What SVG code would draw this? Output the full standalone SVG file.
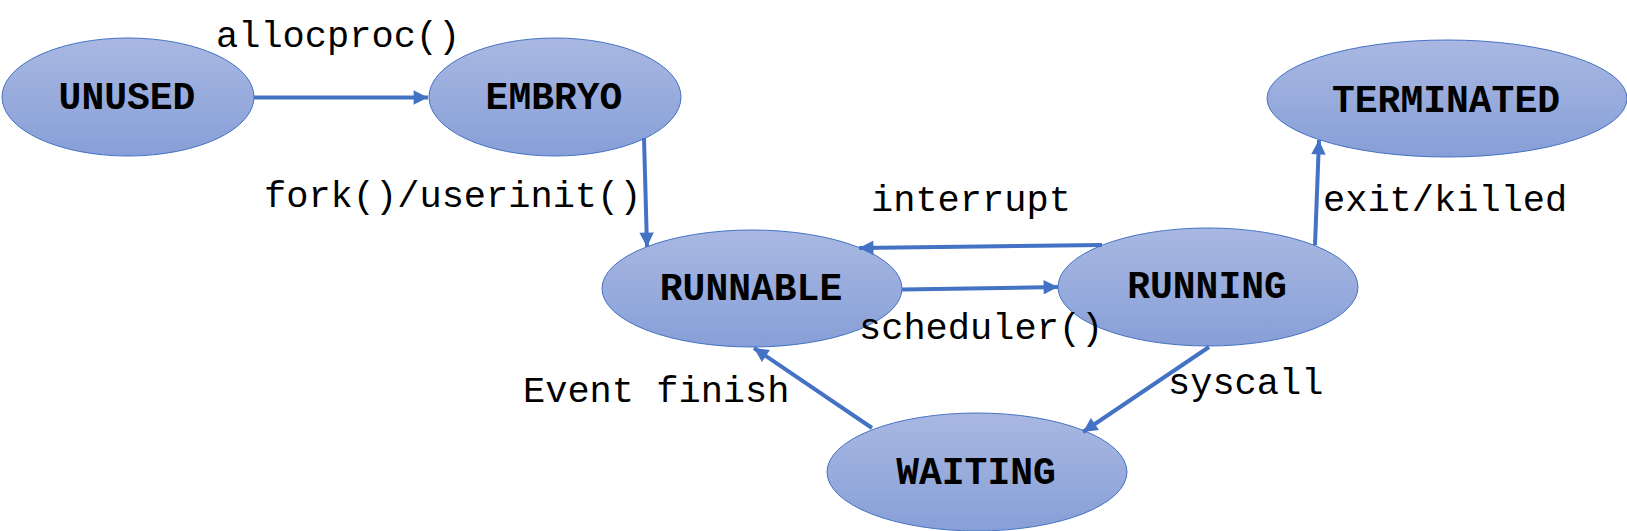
<svg xmlns="http://www.w3.org/2000/svg" width="1627" height="531" viewBox="0 0 1627 531">
<defs>
<linearGradient id="g" x1="0" y1="0" x2="0" y2="1">
<stop offset="0" stop-color="#a9b8e2"/>
<stop offset="1" stop-color="#879fd7"/>
</linearGradient>
<marker id="ah" viewBox="0 0 10 10" refX="10" refY="5" markerWidth="3.8" markerHeight="3.6" orient="auto" markerUnits="strokeWidth">
<path d="M0,0 L10,5 L0,10 z" fill="#4472c4"/>
</marker>
<style>
.n ellipse{fill:url(#g);stroke:#4472c4;stroke-width:1}
.n text{font-family:"Courier New","Nimbus Mono PS","Liberation Mono",monospace;font-weight:bold;font-size:38px;fill:#000;text-anchor:middle}
.lbl{font-family:"Courier New","Nimbus Mono PS","Liberation Mono",monospace;font-size:37px;fill:#000}
#edges line{stroke:#4472c4;stroke-width:4;marker-end:url(#ah)}
</style>
</defs>
<rect width="1627" height="531" fill="#fff"/>
<g id="n-unused" class="n"><ellipse cx="128" cy="97" rx="126" ry="59"/><text x="127" y="109">UNUSED</text></g>
<g id="n-embryo" class="n"><ellipse cx="555" cy="97" rx="126" ry="59"/><text x="554" y="109">EMBRYO</text></g>
<g id="n-terminated" class="n"><ellipse cx="1447" cy="98.5" rx="180" ry="58.5"/><text x="1446" y="112">TERMINATED</text></g>
<g id="n-runnable" class="n"><ellipse cx="752" cy="288.5" rx="150" ry="58.5"/><text x="751" y="300">RUNNABLE</text></g>
<g id="n-running" class="n"><ellipse cx="1208" cy="287" rx="150" ry="59"/><text x="1207" y="298">RUNNING</text></g>
<g id="n-waiting" class="n"><ellipse cx="977" cy="472" rx="150" ry="59"/><text x="976" y="484">WAITING</text></g>
<g id="edges">
<line x1="254" y1="97.5" x2="428" y2="97.5"/>
<line x1="644" y1="138" x2="647" y2="247"/>
<line x1="1102" y1="245" x2="859" y2="248"/>
<line x1="902" y1="289.5" x2="1058" y2="287"/>
<line x1="1315" y1="245" x2="1319" y2="140"/>
<line x1="1209" y1="347" x2="1083" y2="432"/>
<line x1="872" y1="428" x2="754" y2="348"/>
</g>
<g id="labels">
<text class="lbl" x="216" y="47">allocproc()</text>
<text class="lbl" x="264" y="207">fork()/userinit()</text>
<text class="lbl" x="871" y="211">interrupt</text>
<text class="lbl" x="1323" y="211">exit/killed</text>
<text class="lbl" x="859" y="339">scheduler()</text>
<text class="lbl" x="523" y="402">Event finish</text>
<text class="lbl" x="1168" y="394">syscall</text>
</g>
</svg>
